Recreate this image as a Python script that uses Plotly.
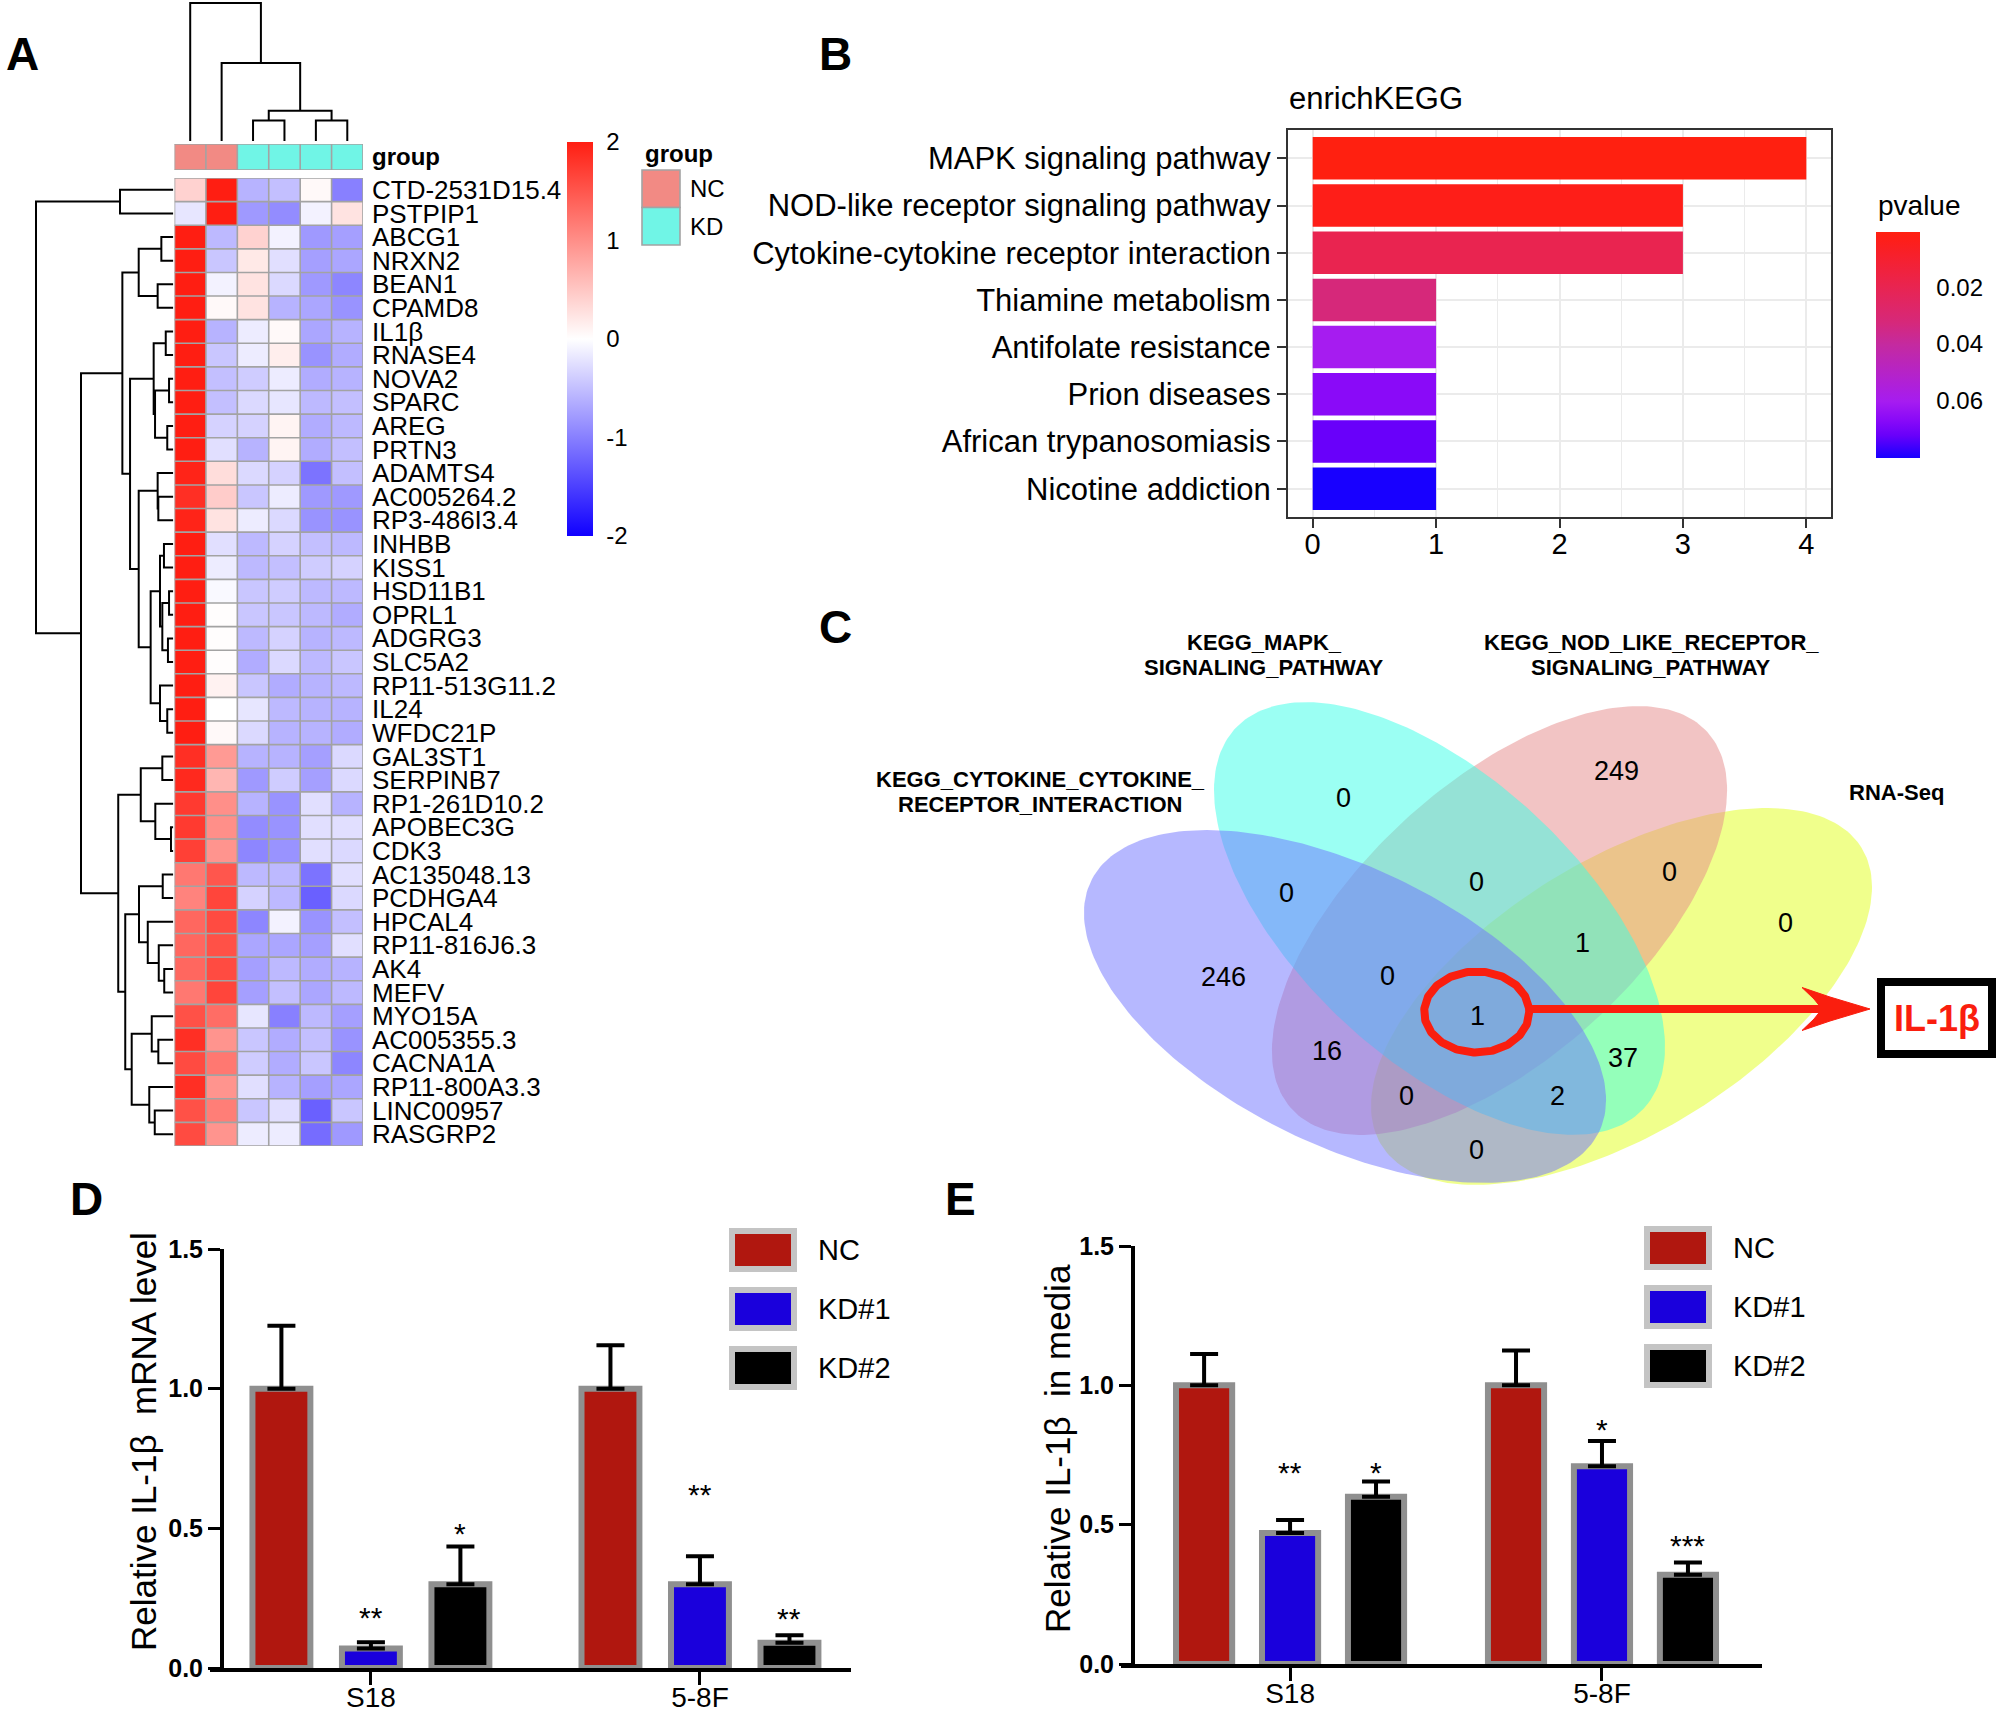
import numpy as np
import plotly.graph_objects as go

W, H = 2000, 1716

# ======================= DATA =======================
# ---- Panel A: heatmap ----
GENES = ["CTD-2531D15.4", "PSTPIP1", "ABCG1", "NRXN2", "BEAN1", "CPAMD8", "IL1β", "RNASE4",
         "NOVA2", "SPARC", "AREG", "PRTN3", "ADAMTS4", "AC005264.2", "RP3-486I3.4", "INHBB",
         "KISS1", "HSD11B1", "OPRL1", "ADGRG3", "SLC5A2", "RP11-513G11.2", "IL24", "WFDC21P",
         "GAL3ST1", "SERPINB7", "RP1-261D10.2", "APOBEC3G", "CDK3", "AC135048.13", "PCDHGA4",
         "HPCAL4", "RP11-816J6.3", "AK4", "MEFV", "MYO15A", "AC005355.3", "CACNA1A",
         "RP11-800A3.3", "LINC00957", "RASGRP2"]
SAMPLE_GROUPS = ["NC", "NC", "KD", "KD", "KD", "KD"]
GROUP_NAMES = ["NC", "KD"]
HEAT = [
    [0.40, 2.00, -0.60, -0.50, 0.05, -1.00],
    [-0.20, 2.00, -0.80, -0.90, -0.10, 0.25],
    [2.00, -0.55, 0.40, -0.10, -0.80, -0.75],
    [2.00, -0.45, 0.20, -0.25, -0.75, -0.70],
    [2.00, -0.10, 0.25, -0.30, -0.80, -0.95],
    [2.00, 0.05, 0.25, -0.60, -0.70, -0.85],
    [2.00, -0.60, -0.15, 0.05, -0.70, -0.60],
    [2.00, -0.45, -0.15, 0.15, -0.85, -0.65],
    [2.00, -0.50, -0.40, -0.15, -0.65, -0.60],
    [2.00, -0.50, -0.30, -0.20, -0.55, -0.50],
    [2.00, -0.35, -0.35, 0.10, -0.65, -0.55],
    [2.00, -0.25, -0.60, 0.10, -0.65, -0.50],
    [1.95, 0.30, -0.30, -0.35, -1.10, -0.50],
    [1.85, 0.45, -0.45, -0.15, -0.80, -0.80],
    [1.95, 0.25, -0.15, -0.30, -0.85, -0.85],
    [2.00, -0.25, -0.55, -0.35, -0.50, -0.55],
    [2.00, -0.15, -0.55, -0.50, -0.40, -0.35],
    [2.00, -0.05, -0.45, -0.40, -0.55, -0.55],
    [2.00, 0.02, -0.45, -0.45, -0.55, -0.65],
    [2.00, 0.02, -0.55, -0.35, -0.60, -0.55],
    [2.00, 0.02, -0.65, -0.30, -0.55, -0.45],
    [2.00, 0.12, -0.45, -0.65, -0.60, -0.55],
    [2.00, 0.00, -0.20, -0.55, -0.60, -0.60],
    [2.00, 0.05, -0.30, -0.60, -0.60, -0.65],
    [1.85, 0.90, -0.60, -0.60, -0.75, -0.30],
    [1.90, 0.65, -0.80, -0.40, -0.75, -0.30],
    [1.75, 1.00, -0.60, -0.85, -0.25, -0.60],
    [1.75, 1.00, -0.90, -0.85, -0.25, -0.25],
    [1.70, 0.95, -0.95, -0.85, -0.25, -0.30],
    [1.20, 1.50, -0.55, -0.55, -1.10, -0.25],
    [1.10, 1.65, -0.35, -0.55, -1.25, -0.30],
    [1.35, 1.60, -0.95, -0.10, -0.85, -0.50],
    [1.35, 1.55, -0.70, -0.70, -0.75, -0.25],
    [1.35, 1.60, -0.75, -0.55, -0.65, -0.60],
    [1.20, 1.65, -0.75, -0.50, -0.70, -0.55],
    [1.55, 1.30, -0.20, -1.00, -0.55, -0.75],
    [1.85, 0.95, -0.45, -0.65, -0.50, -0.85],
    [1.60, 1.20, -0.40, -0.65, -0.45, -0.95],
    [1.85, 0.95, -0.25, -0.60, -0.75, -0.70],
    [1.55, 1.15, -0.45, -0.25, -1.25, -0.45],
    [1.60, 0.95, -0.15, -0.15, -1.15, -0.80],
]
# dendrograms: [left, right, merge height]; ints are leaf indices
COL_TREE = [0, [1, [[2, 3, 0.74], [4, 5, 0.74], 1.10], 2.83], 5.0]
ROW_TREE = [
    [0, 1, 3.88],
    [
        [  # upper block
            [[2, 3, 0.87], [4, 5, 1.14], 2.52],
            [
                [[6, 7, 0.55], [[8, 9, 0.31], [10, 11, 0.44], 1.33], 1.43],
                [
                    [12, [13, 14, 1.09], 1.14],
                    [
                        [[15, 16, 0.68], [[17, 18, 0.31], [19, 20, 0.39], 0.80], 0.97],
                        [21, [22, 23, 0.44], 0.97],
                        1.65,
                    ],
                    2.52,
                ],
                3.15,
            ],
            3.71,
        ],
        [  # lower block
            [[24, 25, 0.80], [26, [27, 28, 0.17], 1.31], 2.37],
            [
                [[29, 30, 0.77], [31, [32, [33, 34, 0.66], 1.06], 1.86], 2.50],
                [[35, [36, 37, 1.09], 1.57], [38, [39, 40, 1.35], 1.75], 3.03],
                3.50,
            ],
            4.01,
        ],
        6.72,
    ],
    10.0,
]

# ---- Panel B: KEGG enrichment ----
KEGG_TERMS = ["MAPK signaling pathway", "NOD-like receptor signaling pathway",
              "Cytokine-cytokine receptor interaction", "Thiamine metabolism",
              "Antifolate resistance", "Prion diseases", "African trypanosomiasis",
              "Nicotine addiction"]
KEGG_COUNTS = [4, 3, 3, 1, 1, 1, 1, 1]
KEGG_PVALUES = [0.0004, 0.0028, 0.0196, 0.0324, 0.0605, 0.0669, 0.0725, 0.0805]
PVAL_TICKS = [0.02, 0.04, 0.06]

# ---- Panel C: Venn ----
VENN_SET_LINES = {
    "A": ["KEGG_CYTOKINE_CYTOKINE_", "RECEPTOR_INTERACTION"],
    "B": ["KEGG_MAPK_", "SIGNALING_PATHWAY"],
    "C": ["KEGG_NOD_LIKE_RECEPTOR_", "SIGNALING_PATHWAY"],
    "D": ["RNA-Seq"],
}
VENN_REGIONS = ["A", "B", "C", "D", "AB", "BC", "CD", "AC", "BD", "AD",
                "ABC", "BCD", "ACD", "ABD", "ABCD"]
VENN_COUNTS = [246, 0, 249, 0, 0, 0, 0, 16, 37, 0, 0, 1, 0, 2, 1]
HIGHLIGHT_GENE = "IL-1β"

# ---- Panels D / E ----
CELL_LINES = ["S18", "5-8F"]
CONDITIONS = ["NC", "KD#1", "KD#2"]
MRNA_NC = [1.00, 1.00]
MRNA_KD1 = [0.07, 0.30]
MRNA_KD2 = [0.30, 0.09]
MRNA_ERR_NC = [0.225, 0.155]
MRNA_ERR_KD1 = [0.022, 0.10]
MRNA_ERR_KD2 = [0.135, 0.027]
MRNA_SIG_KD1 = ["**", "**"]
MRNA_SIG_KD2 = ["*", "**"]
MRNA_SIGY_KD1 = [0.207, 0.646]
MRNA_SIGY_KD2 = [0.507, 0.204]

MEDIA_NC = [1.00, 1.00]
MEDIA_KD1 = [0.47, 0.71]
MEDIA_KD2 = [0.60, 0.32]
MEDIA_ERR_NC = [0.112, 0.125]
MEDIA_ERR_KD1 = [0.047, 0.09]
MEDIA_ERR_KD2 = [0.055, 0.044]
MEDIA_SIG_KD1 = ["**", "*"]
MEDIA_SIG_KD2 = ["*", "***"]
MEDIA_SIGY_KD1 = [0.712, 0.867]
MEDIA_SIGY_KD2 = [0.712, 0.450]

Y_TICKS = [0.0, 0.5, 1.0, 1.5]

# ======================= STYLE / LAYOUT HELPERS =======================
FONT = "Liberation Sans, Arial, Helvetica, sans-serif"
HEAT_SCALE = [[0.0, "#1000FF"], [0.5, "#FFFFFF"], [1.0, "#FF1E12"]]
GROUP_COLORS = {"NC": "#F28A84", "KD": "#70F5E6"}
PVAL_SCALE = [[0.0, "#1800FF"], [0.10, "#6900FA"], [0.17, "#8A0AF8"], [0.25, "#A61CF0"],
              [0.50, "#C42AA0"], [0.60, "#D6287A"], [0.76, "#E92450"], [0.97, "#FE1E18"],
              [1.0, "#FF2010"]]
COND_COLORS = ["#B0170F", "#1A00DC", "#000000"]
BAR_EDGE = "#8F8F8F"
LEG_EDGE = "#C4C4C4"
RED = "#FA1E0E"


def dom_x(a, b):
    return [a / W, b / W]


def dom_y(top, bottom):
    return [1 - bottom / H, 1 - top / H]


def px(x):
    return x / W


def py(y):
    return 1 - y / H


def dendro(node):
    if isinstance(node, int):
        return float(node), 0.0, [], []
    left, right, h = node
    p1, h1, a1, b1 = dendro(left)
    p2, h2, a2, b2 = dendro(right)
    return (p1 + p2) / 2, h, a1 + a2 + [p1, p1, p2, p2, None], b1 + b2 + [h1, h, h, h2, None]


def ellipse_xy(cx, cy, a, b, deg, n=240):
    t = np.linspace(0, 2 * np.pi, n)
    th = np.deg2rad(deg)
    x = cx + a * np.cos(t) * np.cos(th) - b * np.sin(t) * np.sin(th)
    y = cy + a * np.cos(t) * np.sin(th) + b * np.sin(t) * np.cos(th)
    return x, y


fig = go.Figure()
ann = []
shapes = []

# ======================= PANEL A =======================
n_rows, n_cols = len(GENES), len(SAMPLE_GROUPS)
fig.add_trace(go.Heatmap(
    z=HEAT, x=list(range(n_cols)), y=list(range(n_rows)), zmin=-2, zmax=2,
    colorscale=HEAT_SCALE, xaxis="x", yaxis="y", hoverinfo="skip",
    colorbar=dict(x=px(567), xanchor="left", xpad=0, y=py(339), yanchor="middle", ypad=0,
                  len=394, lenmode="pixels", thickness=26, thicknessmode="pixels",
                  outlinewidth=0, tickvals=[-2, -1, 0, 1, 2], ticktext=["-2", "-1", "0", "1", "2"],
                  ticks="outside", ticklen=9, tickcolor="rgba(0,0,0,0)",
                  tickfont=dict(size=24, color="black", family=FONT))))
gx, gy = [], []
for c in range(n_cols + 1):
    gx += [c - 0.5, c - 0.5, None]
    gy += [-0.5, n_rows - 0.5, None]
for r in range(n_rows + 1):
    gx += [-0.5, n_cols - 0.5, None]
    gy += [r - 0.5, r - 0.5, None]
fig.add_trace(go.Scatter(x=gx, y=gy, mode="lines", line=dict(color="#A3A3A3", width=1.6),
                         xaxis="x", yaxis="y", hoverinfo="skip"))

# group annotation row
gz = [[GROUP_NAMES.index(g) for g in SAMPLE_GROUPS]]
fig.add_trace(go.Heatmap(
    z=gz, x=list(range(n_cols)), y=[0], zmin=0, zmax=1, showscale=False,
    colorscale=[[0, GROUP_COLORS["NC"]], [0.5, GROUP_COLORS["NC"]],
                [0.5, GROUP_COLORS["KD"]], [1, GROUP_COLORS["KD"]]],
    xaxis="x2", yaxis="y2", hoverinfo="skip"))
ax_, ay_ = [], []
for c in range(n_cols + 1):
    ax_ += [c - 0.5, c - 0.5, None]
    ay_ += [-0.5, 0.5, None]
for r in (-0.5, 0.5):
    ax_ += [-0.5, n_cols - 0.5, None]
    ay_ += [r, r, None]
fig.add_trace(go.Scatter(x=ax_, y=ay_, mode="lines", line=dict(color="#A3A3A3", width=1.6),
                         xaxis="x2", yaxis="y2", hoverinfo="skip"))

# dendrograms
_, col_h, cx_, cy_ = dendro(COL_TREE)
fig.add_trace(go.Scatter(x=cx_, y=cy_, mode="lines", line=dict(color="black", width=2),
                         xaxis="x3", yaxis="y3", hoverinfo="skip"))
_, row_h, rx_, ry_ = dendro(ROW_TREE)
fig.add_trace(go.Scatter(x=ry_, y=rx_, mode="lines", line=dict(color="black", width=2),
                         xaxis="x4", yaxis="y4", hoverinfo="skip"))

# group legend
ann.append(dict(x=px(643), y=py(153), xref="paper", yref="paper", text="<b>group</b>",
                showarrow=False, xanchor="left", yanchor="middle", font=dict(size=24)))
for i, g in enumerate(GROUP_NAMES):
    top = 170 + 37.5 * i
    shapes.append(dict(type="rect", xref="paper", yref="paper", x0=px(642), x1=px(680),
                       y0=py(top + 37.5), y1=py(top), fillcolor=GROUP_COLORS[g],
                       line=dict(color="#A3A3A3", width=1.6)))
    ann.append(dict(x=px(688), y=py(top + 19), xref="paper", yref="paper", text=g,
                    showarrow=False, xanchor="left", yanchor="middle", font=dict(size=24)))

# ======================= PANEL B =======================
pmin, pmax = min(KEGG_PVALUES), max(KEGG_PVALUES)
CB_TOP, CB_LEN, CB_X, CB_TH = 232, 226, 1876, 44
fig.add_trace(go.Bar(
    x=KEGG_COUNTS, y=KEGG_TERMS, orientation="h", width=0.9, xaxis="x5", yaxis="y5",
    marker=dict(color=[-p for p in KEGG_PVALUES], colorscale=PVAL_SCALE,
                cmin=-pmax, cmax=-pmin, line=dict(width=0),
                colorbar=dict(x=px(CB_X), xanchor="left", xpad=0, y=py(CB_TOP + CB_LEN / 2),
                              yanchor="middle", ypad=0, len=CB_LEN, lenmode="pixels",
                              thickness=CB_TH, thicknessmode="pixels",
                              outlinewidth=0, tickvals=[-t for t in PVAL_TICKS],
                              ticktext=[f"{t:.2f}" for t in PVAL_TICKS], ticks="outside",
                              ticklen=12, tickcolor="rgba(0,0,0,0)",
                              tickfont=dict(size=24, color="black", family=FONT))),
    hoverinfo="skip"))
# white guide ticks on the colour bar (both edges, as in ggplot)
for t in PVAL_TICKS:
    yt = CB_TOP + (t - pmin) / (pmax - pmin) * CB_LEN
    for xa, xb in ((CB_X, CB_X + 9), (CB_X + CB_TH - 9, CB_X + CB_TH)):
        shapes.append(dict(type="line", xref="paper", yref="paper", x0=px(xa), x1=px(xb),
                           y0=py(yt), y1=py(yt), line=dict(color="white", width=2)))
ann.append(dict(x=px(CB_X), y=py(206), xref="paper", yref="paper", text="pvalue",
                showarrow=False, xanchor="left", yanchor="middle", font=dict(size=28)))
ann.append(dict(x=px(1287), y=py(98), xref="paper", yref="paper", text="enrichKEGG",
                showarrow=False, xanchor="left", yanchor="middle", font=dict(size=31)))

# ======================= PANEL C =======================
ELLIPSES = {  # (cx, cy, a, b, rotation deg) in pixels
    "D": (1621.5, 996.5, 282.4, 136.1, -31.8),
    "C": (1499.5, 920.5, 280.6, 138.0, -42.2),
    "B": (1439.5, 918.5, 279.0, 140.8, 43.0),
    "A": (1345.0, 1006.5, 283.3, 137.9, 26.4),
}
ELL_COLORS = {"D": "rgba(225,255,25,0.5)", "C": "rgba(229,137,137,0.5)",
              "B": "rgba(55,255,231,0.5)", "A": "rgba(109,113,255,0.5)"}
for key in ["D", "C", "B", "A"]:
    ex, ey = ellipse_xy(*ELLIPSES[key])
    fig.add_trace(go.Scatter(x=ex, y=ey, mode="lines", fill="toself",
                             fillcolor=ELL_COLORS[key], line=dict(width=0),
                             xaxis="x6", yaxis="y6", hoverinfo="skip"))
REGION_POS = {"A": (1223, 977), "B": (1343, 798), "C": (1616, 771), "D": (1785, 923),
              "AB": (1286, 893), "BC": (1476, 882), "CD": (1669, 872), "AC": (1327, 1051),
              "BD": (1623, 1058), "AD": (1476, 1150), "ABC": (1387, 976), "BCD": (1582, 943),
              "ACD": (1406, 1096), "ABD": (1557, 1096), "ABCD": (1477, 1016)}
for reg, cnt in zip(VENN_REGIONS, VENN_COUNTS):
    x0, y0 = REGION_POS[reg]
    ann.append(dict(x=x0, y=y0, xref="x6", yref="y6", text=str(cnt), showarrow=False,
                    xanchor="center", yanchor="middle", font=dict(size=27)))
SET_LABEL_POS = {"A": (1040, 780), "B": (1264, 643), "C": (1651, 643), "D": (1896, 793)}
for key, lines in VENN_SET_LINES.items():
    lx, ly = SET_LABEL_POS[key]
    for j, line in enumerate(lines):
        ann.append(dict(x=lx, y=ly + 25 * j, xref="x6", yref="y6", text=f"<b>{line}</b>",
                        showarrow=False, xanchor="center", yanchor="middle",
                        font=dict(size=22)))
# highlight circle, arrow and box
hx, hy = ellipse_xy(1476.7, 1012, 52.5, 40.5, 0)
fig.add_trace(go.Scatter(x=hx, y=hy, mode="lines", line=dict(color=RED, width=8),
                         xaxis="x6", yaxis="y6", hoverinfo="skip"))
fig.add_trace(go.Scatter(x=[1530, 1826], y=[1009, 1009], mode="lines",
                         line=dict(color=RED, width=8), xaxis="x6", yaxis="y6", hoverinfo="skip"))
fig.add_trace(go.Scatter(x=[1870, 1830, 1802, 1814, 1822, 1814, 1802, 1830, 1870],
                         y=[1009, 997, 987.5, 999, 1009, 1019, 1030.5, 1021, 1009],
                         mode="lines", fill="toself", fillcolor=RED, line=dict(color=RED, width=1),
                         xaxis="x6", yaxis="y6", hoverinfo="skip"))
shapes.append(dict(type="rect", xref="x6", yref="y6", x0=1881, x1=1992, y0=982, y1=1054,
                   line=dict(color="black", width=8), fillcolor="white"))
ann.append(dict(x=1936.5, y=1019, xref="x6", yref="y6", text=f"<b>{HIGHLIGHT_GENE}</b>",
                showarrow=False, xanchor="center", yanchor="middle",
                font=dict(size=36, color=RED)))

# ======================= PANELS D / E =======================


def bar_panel(xa, ya, means, errs, sigs, sigys, slot, barw, leg_x, leg_tops):
    for k, cond in enumerate(CONDITIONS):
        xs = [g + (k - 1) * slot for g in range(len(CELL_LINES))]
        fig.add_trace(go.Bar(
            x=xs, y=means[k], width=barw, xaxis=xa, yaxis=ya,
            marker=dict(color=COND_COLORS[k], line=dict(color=BAR_EDGE, width=6)),
            error_y=dict(type="data", array=errs[k], arrayminus=[0] * len(xs), symmetric=False,
                         color="black", thickness=4, width=14),
            hoverinfo="skip"))
        if sigs[k] is not None:
            for xv, s, sy in zip(xs, sigs[k], sigys[k]):
                ann.append(dict(x=xv, y=sy, xref=xa, yref=ya, text=s, showarrow=False,
                                xanchor="center", yanchor="middle", yshift=-7,
                                font=dict(size=30)))
        top = leg_tops[k]
        shapes.append(dict(type="rect", xref="paper", yref="paper", x0=px(leg_x + 3),
                           x1=px(leg_x + 65), y0=py(top + 41), y1=py(top + 3),
                           fillcolor=COND_COLORS[k], line=dict(color=LEG_EDGE, width=6)))
        ann.append(dict(x=px(leg_x + 87), y=py(top + 22), xref="paper", yref="paper",
                        text=cond, showarrow=False, xanchor="left", yanchor="middle",
                        font=dict(size=29)))


bar_panel("x7", "y7", [MRNA_NC, MRNA_KD1, MRNA_KD2], [MRNA_ERR_NC, MRNA_ERR_KD1, MRNA_ERR_KD2],
          [None, MRNA_SIG_KD1, MRNA_SIG_KD2], [None, MRNA_SIGY_KD1, MRNA_SIGY_KD2],
          0.272, 0.176, 729, [1228, 1287, 1346])
bar_panel("x8", "y8", [MEDIA_NC, MEDIA_KD1, MEDIA_KD2],
          [MEDIA_ERR_NC, MEDIA_ERR_KD1, MEDIA_ERR_KD2],
          [None, MEDIA_SIG_KD1, MEDIA_SIG_KD2], [None, MEDIA_SIGY_KD1, MEDIA_SIGY_KD2],
          0.2756, 0.180, 1644, [1226, 1285, 1344])

ann.append(dict(x=px(143), y=py(1442), xref="paper", yref="paper",
                text="Relative IL-1β\u00a0\u00a0mRNA level", textangle=-90, showarrow=False,
                xanchor="center", yanchor="middle", font=dict(size=35)))
ann.append(dict(x=px(1057), y=py(1449), xref="paper", yref="paper",
                text="Relative IL-1β\u00a0\u00a0in media", textangle=-90, showarrow=False,
                xanchor="center", yanchor="middle", font=dict(size=35)))

# panel letters
for letter, (lx, ly) in {"A": (22, 54), "B": (835, 54), "C": (835, 627),
                         "D": (86, 1199), "E": (960, 1199)}.items():
    ann.append(dict(x=px(lx), y=py(ly), xref="paper", yref="paper", text=f"<b>{letter}</b>",
                    showarrow=False, xanchor="center", yanchor="middle", font=dict(size=46)))

# ======================= AXES =======================
hid = dict(visible=False, showgrid=False, zeroline=False, fixedrange=True, automargin=False)
ytick_bold = [f"<b>{v:.1f}</b>" for v in Y_TICKS]


def bar_axes(xdom, ydom, ypos, xrange_):
    xa = dict(domain=xdom, range=xrange_, tickvals=list(range(len(CELL_LINES))),
              ticktext=CELL_LINES, ticks="outside", ticklen=13, tickwidth=3, tickcolor="black",
              showline=True, linewidth=4, linecolor="black", showgrid=False, zeroline=False,
              tickfont=dict(size=28), ticklabelstandoff=-12, fixedrange=True, automargin=False)
    ya = dict(domain=ydom, range=[0, 1.5], anchor="free", position=ypos, tickvals=Y_TICKS,
              ticktext=ytick_bold, ticks="outside", ticklen=12, tickwidth=3, tickcolor="black",
              showline=True, linewidth=4, linecolor="black", showgrid=False, zeroline=False,
              tickfont=dict(size=25), fixedrange=True, automargin=False)
    return xa, ya


xa7, ya7 = bar_axes(dom_x(210, 851), dom_y(1249, 1668), px(222), [-0.489, 1.459])
xa8, ya8 = bar_axes(dom_x(1121, 1762), dom_y(1246, 1664), px(1133), [-0.542, 1.513])
xa7["anchor"] = "y7"
xa8["anchor"] = "y8"

fig.update_layout(
    template="none",
    width=W, height=H, margin=dict(l=0, r=0, t=0, b=0, pad=0, autoexpand=False), autosize=False,
    paper_bgcolor="white", plot_bgcolor="white", showlegend=False, barmode="overlay",
    font=dict(family=FONT, color="black"),
    xaxis=dict(domain=dom_x(174.5, 363), range=[-0.5, n_cols - 0.5], anchor="y", **hid),
    yaxis=dict(domain=dom_y(178, 1146), range=[n_rows - 0.5, -0.5], anchor="x", side="right",
               tickvals=list(range(n_rows)), ticktext=GENES, ticks="", showgrid=False,
               zeroline=False, showline=False, ticklabelstandoff=8, automargin=False,
               tickfont=dict(size=26, color="black"), fixedrange=True),
    xaxis2=dict(domain=dom_x(174.5, 363), range=[-0.5, n_cols - 0.5], anchor="y2", **hid),
    yaxis2=dict(domain=dom_y(144, 170), range=[0.5, -0.5], anchor="x2", side="right",
                tickvals=[0], ticktext=["<b>group</b>"], ticks="", showgrid=False,
                zeroline=False, showline=False, ticklabelstandoff=8, automargin=False,
                tickfont=dict(size=24, color="black"), fixedrange=True),
    xaxis3=dict(domain=dom_x(174.5, 363), range=[-0.5, n_cols - 0.5], anchor="y3", **hid),
    yaxis3=dict(domain=dom_y(0, 141), range=[0, col_h * 141 / 138], anchor="x3", **hid),
    xaxis4=dict(domain=dom_x(30, 173.3), range=[row_h * (173.3 - 30) / (173.3 - 36), 0],
                anchor="y4", **hid),
    yaxis4=dict(domain=dom_y(178, 1146), range=[n_rows - 0.5, -0.5], anchor="x4", **hid),
    xaxis5=dict(domain=dom_x(1288, 1831), range=[-0.2, 4.2], anchor="y5",
                tickvals=[0, 1, 2, 3, 4], ticks="outside", ticklen=9, tickwidth=2,
                tickcolor="#333333", showline=True, mirror=True, linewidth=2,
                linecolor="#333333", showgrid=True, gridcolor="#EBEBEB", gridwidth=2,
                minor=dict(dtick=0.5, tick0=0, showgrid=True, gridcolor="#EBEBEB", gridwidth=1),
                zeroline=False, tickfont=dict(size=29, color="black"), ticklabelstandoff=-9,
                fixedrange=True, automargin=False),
    yaxis5=dict(domain=dom_y(130, 517), type="category", categoryorder="array",
                categoryarray=KEGG_TERMS, range=[len(KEGG_TERMS) - 0.4, -0.6], anchor="x5",
                ticks="outside", ticklen=9, tickwidth=2, tickcolor="#333333", showline=True,
                mirror=True, linewidth=2, linecolor="#333333", showgrid=True,
                gridcolor="#EBEBEB", gridwidth=2, zeroline=False,
                tickfont=dict(size=31, color="black"), fixedrange=True, automargin=False),
    xaxis6=dict(domain=dom_x(830, 2000), range=[830, 2000], anchor="y6", **hid),
    yaxis6=dict(domain=dom_y(600, 1200), range=[1200, 600], anchor="x6", **hid),
    xaxis7=xa7, yaxis7=ya7, xaxis8=xa8, yaxis8=ya8,
    annotations=ann, shapes=shapes,
)

fig.write_html("out.html", config={"displayModeBar": False},
               post_script="document.body.style.margin='0';document.body.style.overflow='hidden';")
